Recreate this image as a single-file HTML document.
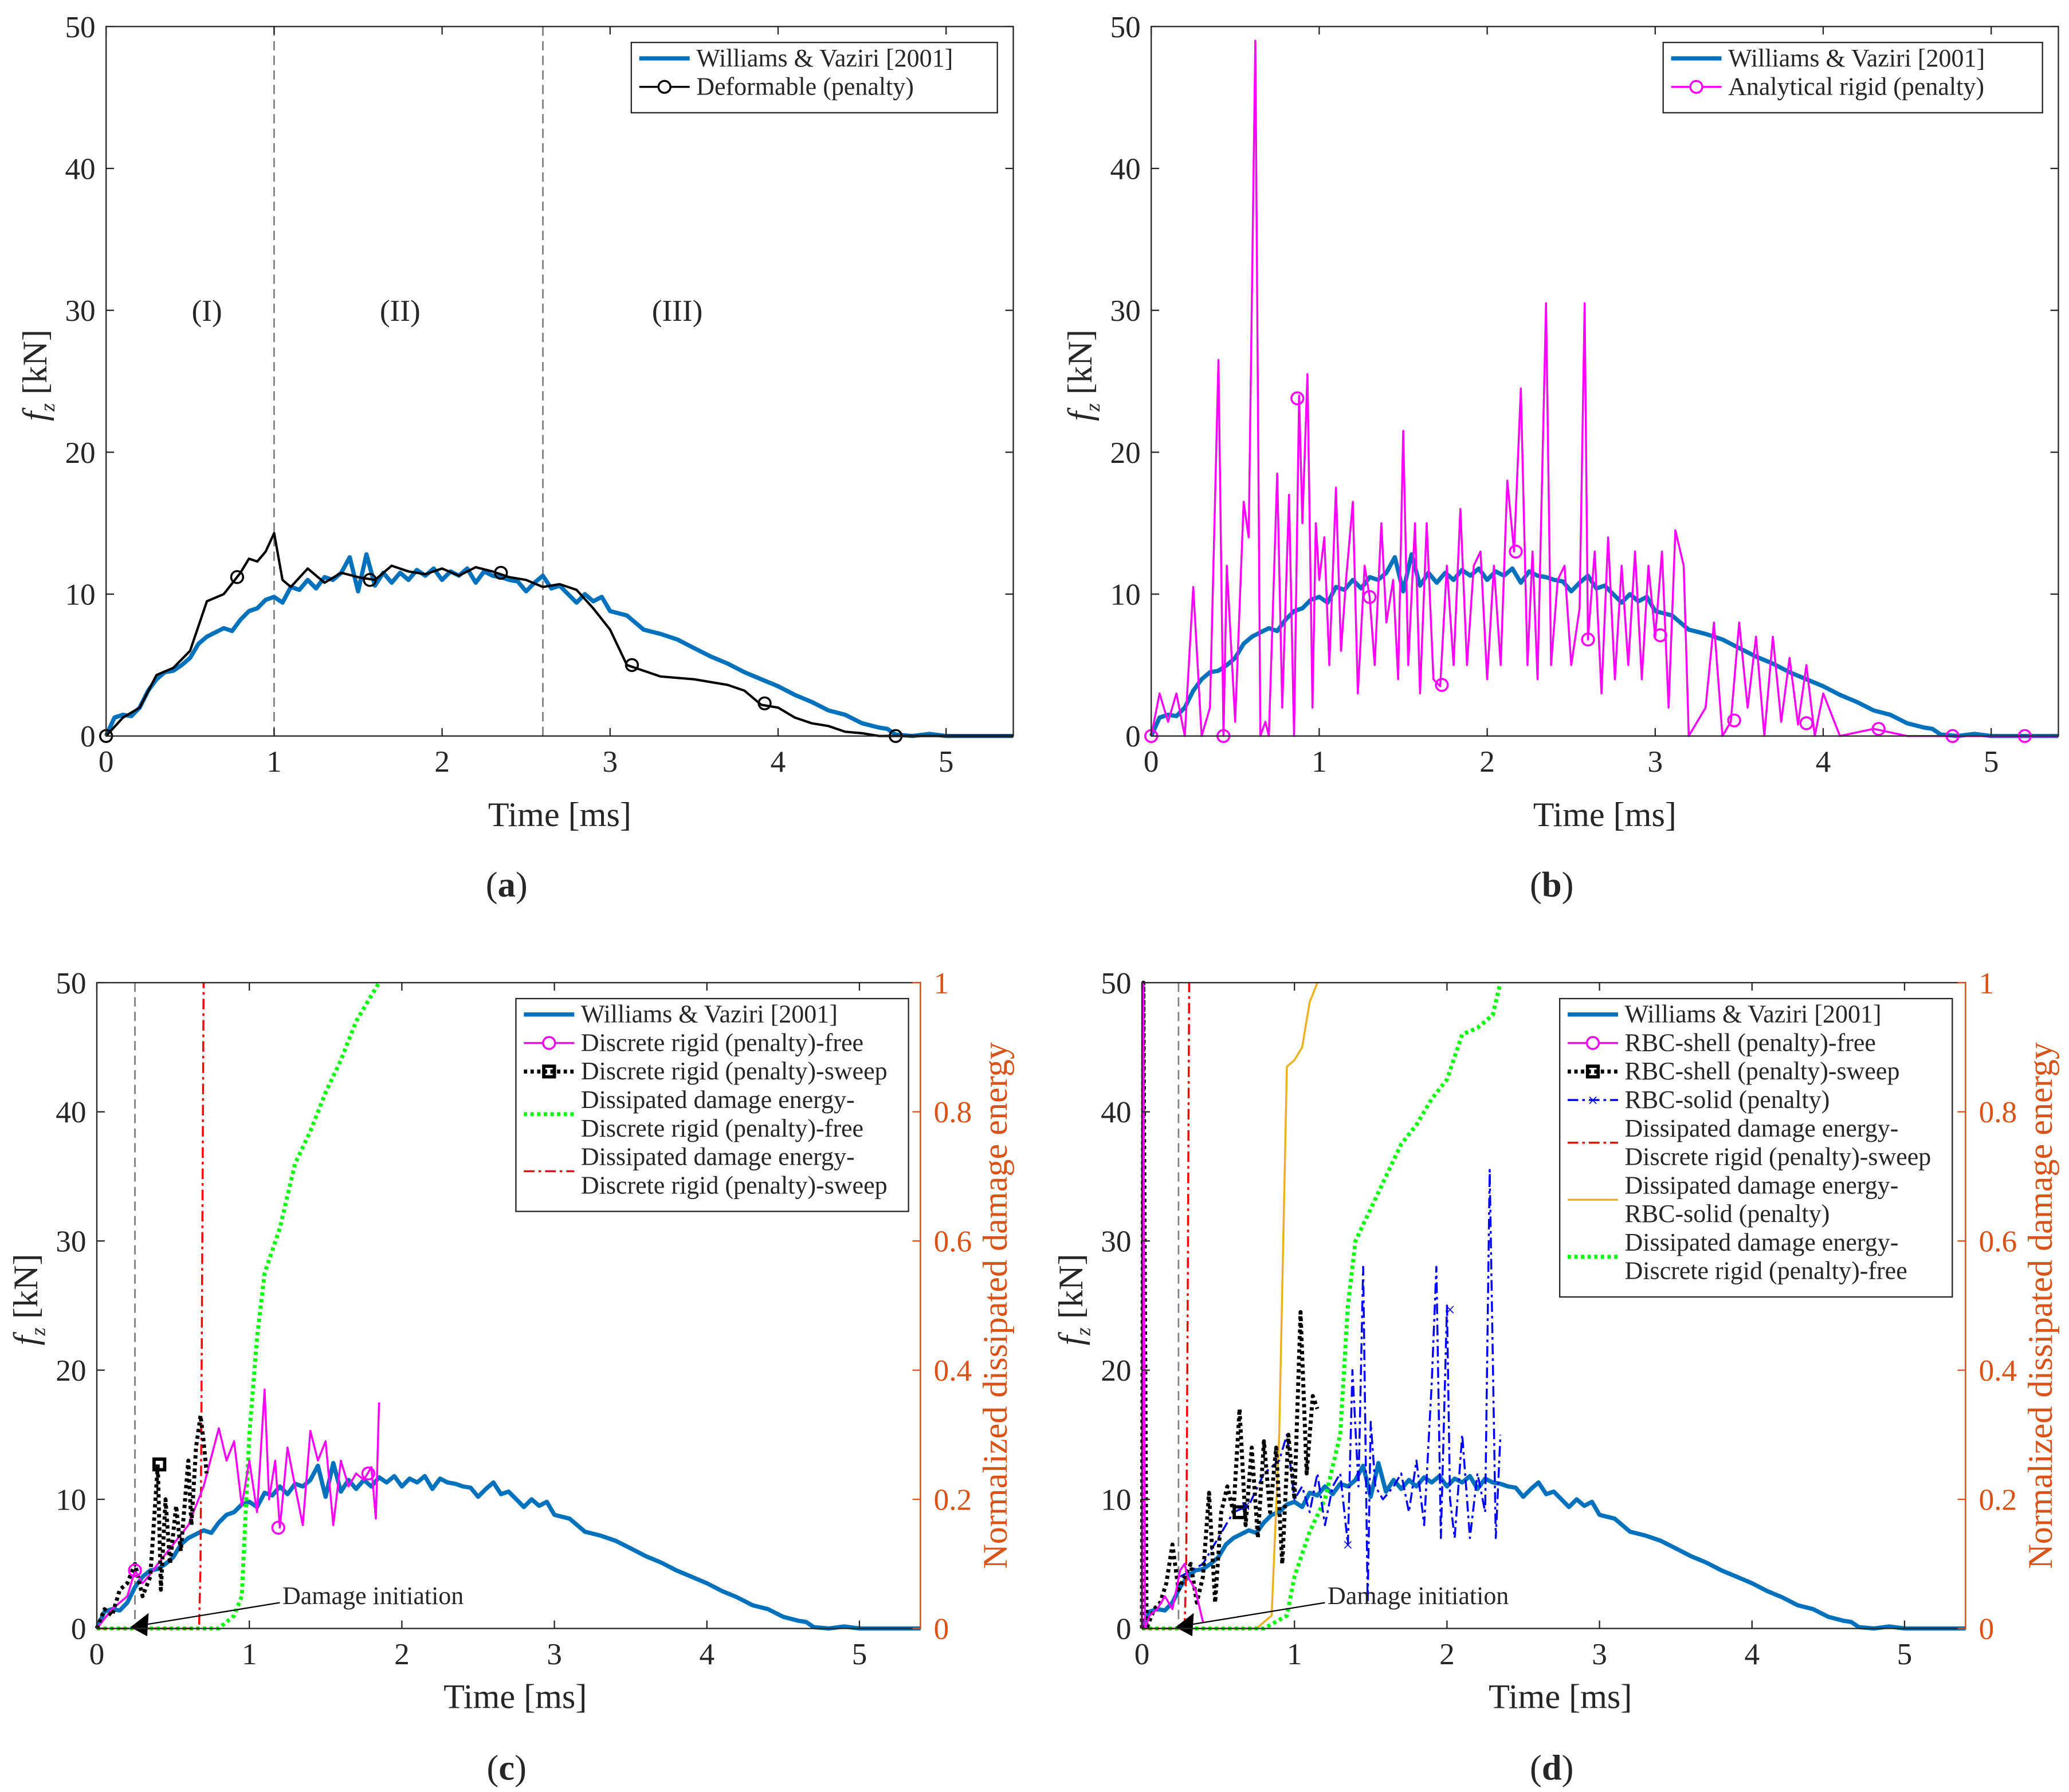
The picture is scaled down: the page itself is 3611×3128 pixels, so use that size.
<!DOCTYPE html>
<html><head><meta charset="utf-8"><style>
html,body{margin:0;padding:0;background:#fff}
svg{display:block}
text{font-family:"Liberation Serif",serif;fill:#262626}
</style></head><body>
<svg id="fig" width="3611" height="3128" viewBox="0 0 1560 1351.3" xmlns="http://www.w3.org/2000/svg">
<rect width="1560" height="1352" fill="#fff"/>
<g id="root"></g>
</svg>
<script>
// ---------- data ----------
const xTicks=[0,1,2,3,4,5];
const yTicks=[0,10,20,30,40,50];
const rTicks=[0,0.2,0.4,0.6,0.8,1];
const wvT=[0,0.05,0.1,0.15,0.2,0.25,0.3,0.35,0.4,0.45,0.5,0.55,0.6,0.65,0.7,0.75,0.8,0.85,0.9,0.95,1.0,1.05,1.1,1.15,1.2,1.25,1.3,1.35,1.4,1.45,1.5,1.55,1.6,1.65,1.7,1.75,1.8,1.85,1.9,1.95,2.0,2.05,2.1,2.15,2.2,2.25,2.3,2.35,2.4,2.45,2.5,2.55,2.6,2.65,2.7,2.75,2.8,2.85,2.9,2.95,3.0,3.1,3.2,3.3,3.4,3.5,3.6,3.7,3.8,3.9,4.0,4.1,4.2,4.3,4.4,4.5,4.6,4.65,4.7,4.8,4.9,5.0,5.4];
const wvF=[0,1.3,1.5,1.4,2.0,3.2,4.0,4.5,4.6,5.0,5.5,6.5,7.0,7.3,7.6,7.4,8.2,8.8,9.0,9.6,9.8,9.4,10.5,10.3,11.0,10.4,11.2,11.0,11.5,12.6,10.2,12.8,10.6,11.5,10.8,11.5,11.0,11.7,11.3,11.8,11.0,11.6,11.3,11.8,10.8,11.6,11.3,11.2,11.0,10.9,10.2,10.8,11.3,10.4,10.6,10.0,9.4,10.0,9.5,9.8,8.8,8.5,7.5,7.2,6.8,6.2,5.6,5.1,4.5,4.0,3.5,2.9,2.4,1.8,1.5,0.9,0.6,0.5,0.1,0,0.15,0,0];
const defT=[0,0.1,0.2,0.3,0.4,0.5,0.6,0.7,0.8,0.85,0.9,0.95,1.0,1.05,1.1,1.2,1.3,1.4,1.5,1.6,1.7,1.8,1.9,2.0,2.1,2.2,2.3,2.4,2.5,2.6,2.7,2.8,2.9,3.0,3.1,3.2,3.3,3.5,3.7,3.8,3.9,4.0,4.1,4.2,4.3,4.4,4.5,4.6,5.4];
const defF=[0,1.3,2.0,4.3,4.8,6.0,9.5,10.0,11.5,12.5,12.3,13.0,14.3,11.0,10.5,11.8,10.8,11.5,11.2,11.0,12.0,11.6,11.4,11.8,11.3,11.9,11.6,11.2,11.0,10.5,10.7,10.3,9.0,7.5,5.0,4.6,4.2,4.0,3.6,3.2,2.2,2.0,1.3,0.9,0.7,0.3,0.2,0,0];
const defMT=[0,0.78,1.57,2.35,3.13,3.92,4.7];
const defMF=[0,11.2,11.0,11.5,5.0,2.3,0];
const arT=[0,0.05,0.1,0.15,0.2,0.25,0.3,0.35,0.4,0.43,0.45,0.5,0.55,0.58,0.62,0.65,0.68,0.7,0.75,0.78,0.82,0.85,0.88,0.9,0.93,0.96,0.98,1.0,1.03,1.06,1.1,1.13,1.16,1.2,1.23,1.27,1.3,1.33,1.37,1.4,1.44,1.47,1.5,1.53,1.57,1.6,1.64,1.68,1.72,1.76,1.8,1.84,1.88,1.92,1.96,2.0,2.04,2.08,2.12,2.16,2.2,2.24,2.27,2.3,2.35,2.38,2.42,2.46,2.5,2.55,2.58,2.6,2.64,2.68,2.72,2.76,2.8,2.84,2.88,2.92,2.96,3.0,3.04,3.08,3.12,3.17,3.2,3.3,3.35,3.4,3.45,3.5,3.55,3.6,3.65,3.7,3.75,3.8,3.85,3.9,3.95,4.0,4.1,4.3,4.5,5.4];
const arF=[0,3,1,3,0,10.5,0,2,26.5,0,12,1,16.5,14,49,0,1,0,18.5,2,17,0,24,15,25.5,2,15,11,14,5,17.5,6,11,16.5,3,12,9.8,5,15,8,11,4,21.5,5,15,3,15,4,3.5,12,5,16,5,12,13,4,12,5,18,13,24.5,5,13,4,30.5,5,11,12,5,9,30.5,6.8,13,3,14,4,12,5,13,4,12,7,13,2,14.5,12,0,2,8,0,1,8,2,7,0,7,1,5.5,0.8,5,0,3,0,0.5,0,0];
const arMT=[0,0.43,0.87,1.3,1.73,2.17,2.6,3.03,3.47,3.9,4.33,4.77,5.2];
const arMF=[0,0,23.8,9.8,3.6,13,6.8,7.1,1.1,0.9,0.5,0,0];
const cFreeT=[0,0.1,0.2,0.25,0.3,0.35,0.4,0.5,0.6,0.7,0.8,0.85,0.9,0.95,1.0,1.05,1.1,1.13,1.17,1.2,1.25,1.3,1.35,1.4,1.45,1.5,1.55,1.6,1.65,1.7,1.75,1.8,1.83,1.85];
const cFreeF=[0,1.5,2.5,4.5,3.5,4.2,5,6.5,8,11,15.5,13,14.5,9.5,13,9,18.5,10,13,7.8,14,11,8,15.3,13,14.5,8,13,11,12,11.5,12.5,8.5,17.5];
const cSwT=[0,0.05,0.1,0.15,0.2,0.25,0.3,0.35,0.4,0.42,0.45,0.48,0.52,0.55,0.6,0.62,0.65,0.68,0.7,0.72];
const cSwF=[0,1.5,1,3,3.5,5,2.5,4,12.7,3,10,5,9.5,6,13,8,14,16.5,14.5,12];
const cGrT=[0,0.8,0.9,0.95,0.98,1.0,1.05,1.1,1.2,1.3,1.4,1.5,1.6,1.7,1.8,1.85];
const cGrE=[0,0,0.02,0.05,0.2,0.3,0.45,0.55,0.62,0.72,0.77,0.83,0.88,0.94,0.98,1.0];
const cRdT=[0,0.67,0.68,0.69,0.7];
const cRdE=[0,0,0.1,0.5,1.0];
const dFreeT=[0,0.01,0.02,0.05,0.1,0.15,0.2,0.25,0.28,0.3,0.35,0.4];
const dFreeF=[0,50,0,1,1.5,2.5,1.5,4.5,5,4,3,0.5];
const dSwT=[0,0.01,0.03,0.08,0.12,0.16,0.2,0.24,0.28,0.32,0.36,0.4,0.44,0.48,0.52,0.56,0.6,0.64,0.68,0.72,0.76,0.8,0.84,0.88,0.92,0.96,1.0,1.04,1.08,1.12,1.15];
const dSwF=[0,50,0,1.5,2,3.5,6.5,3,4,5,2,4,10.5,2,9,11,9,17,8,14,7,14.5,9,14,5,15,10,24.5,12,18,17];
const dSolT=[0.25,0.4,0.6,0.7,0.8,0.9,0.95,1.0,1.05,1.1,1.15,1.2,1.25,1.3,1.35,1.38,1.42,1.45,1.48,1.5,1.53,1.58,1.65,1.7,1.75,1.8,1.85,1.9,1.93,1.96,2.0,2.02,2.05,2.1,2.15,2.2,2.25,2.28,2.32,2.35];
const dSolF=[4,5,9,9.5,12,13,15,10,11,9,12,8,11,12,6.5,20,11,28,2,16,11,10,11,12,9,13,8,19,28,7,25,10,7,15,7,12,9,35.5,7,15];
const dOrT=[0,0.75,0.85,0.9,0.95,1.0,1.05,1.1,1.15];
const dOrE=[0,0,0.02,0.3,0.87,0.88,0.9,0.97,1.0];
const dGrT=[0,0.8,0.95,1.0,1.1,1.2,1.3,1.35,1.4,1.5,1.6,1.7,1.8,1.9,2.0,2.1,2.2,2.3,2.35];
const dGrE=[0,0,0.02,0.08,0.15,0.2,0.3,0.5,0.6,0.65,0.7,0.75,0.78,0.82,0.85,0.92,0.93,0.95,1.0];
const dRdT=[0,0.28,0.29,0.3,0.31];
const dRdE=[0,0,0.1,0.5,1.0];

// ---------- helpers ----------
const NS="http://www.w3.org/2000/svg";
const root=document.getElementById('root');
function mk(tag,attrs,parent){const e=document.createElementNS(NS,tag);for(const k in attrs)e.setAttribute(k,attrs[k]);(parent||root).appendChild(e);return e;}
function panel(L,R,B,T){const sx=t=>L+(R-L)*t/5.4, sy=f=>B-(B-T)*f/50, sr=e=>B-(B-T)*e;return {L,R,B,T,sx,sy,sr};}
function pts(p,ts,vs,fy){return ts.map((t,i)=>p.sx(t).toFixed(1)+','+Math.max(p.T,fy(vs[i])).toFixed(1)).join(' ');}
function axes(p,name,right){
  const g=mk('g',{});
  
  
  mk('rect',{x:p.L,y:p.T,width:p.R-p.L,height:p.B-p.T,fill:'none',stroke:'#262626','stroke-width':1},g);
  xTicks.forEach(t=>{const x=p.sx(t);mk('line',{x1:x,y1:p.B,x2:x,y2:p.B-6,stroke:'#262626'},g);mk('line',{x1:x,y1:p.T,x2:x,y2:p.T+6,stroke:'#262626'},g);
    const tx=mk('text',{x:x,y:p.B+27,'text-anchor':'middle','font-size':23},g);tx.textContent=t;
    
    });
  yTicks.forEach(v=>{const y=p.sy(v);mk('line',{x1:p.L,y1:y,x2:p.L+6,y2:y,stroke:'#262626'},g);if(!right)mk('line',{x1:p.R,y1:y,x2:p.R-6,y2:y,stroke:'#262626'},g);
    const tx=mk('text',{x:p.L-8,y:y+8,'text-anchor':'end','font-size':23},g);tx.textContent=v;
    
    });
  const xl=mk('text',{x:(p.L+p.R)/2+(right?5:0),y:p.B+(right?60:68),'text-anchor':'middle','font-size':26},g);xl.textContent='Time [ms]';
  
  
  const yl=mk('text',{transform:`translate(${p.L-45},${(p.T+p.B)/2+30}) rotate(-90)`,'font-size':26},g);
  yl.innerHTML='<tspan font-style="italic">f</tspan><tspan font-style="italic" font-size="16" dy="6">z</tspan><tspan dy="-6"> [kN]</tspan>';
  
  
  if(right){const oc='#d95319';
    mk('line',{x1:p.R,y1:p.T,x2:p.R,y2:p.B,stroke:oc},g);
    rTicks.forEach(v=>{const y=p.sr(v);mk('line',{x1:p.R,y1:y,x2:p.R-6,y2:y,stroke:oc},g);
      const tx=mk('text',{x:p.R+10,y:y+8,'font-size':23,style:'fill:'+oc},g);tx.textContent=v;
      
      });
    const rl=mk('text',{transform:`translate(${p.R+65},${(p.T+p.B)/2}) rotate(-90)`,'text-anchor':'middle','font-size':26,style:'fill:'+oc},g);
    rl.textContent='Normalized dissipated damage energy';
    
    }
}
function line(p,ts,vs,fy,style,name){const e=mk('polyline',Object.assign({points:pts(p,ts,vs,fy),fill:'none','stroke-linejoin':'round'},style));
  
  return e;}
function markers(p,ts,vs,kind,color,name){ts.forEach((t,i)=>{const x=p.sx(t),y=p.sy(vs[i]);let e;
  if(kind==='o')e=mk('circle',{cx:x,cy:y,r:4.5,fill:'none',stroke:color,'stroke-width':1.5});
  else if(kind==='s')e=mk('rect',{x:x-4,y:y-4,width:8,height:8,fill:'none',stroke:color,'stroke-width':2.5});
  else e=mk('text',{x:x,y:y+5,'text-anchor':'middle','font-size':14,style:'fill:'+color},null),e.textContent='×';
  
  });}
function legend(x,y,w,entries,name){const g=mk('g',{});
  
  
  let h=0;entries.forEach(e=>h+=e.lines.length*21.5);h+=10;
  mk('rect',{x,y,width:w,height:h,fill:'#fff',stroke:'#262626'},g);
  let cy=y+18;entries.forEach(e=>{const ly=cy-6+(e.lines.length-1)*10.7;
    if(e.style){const l=mk('line',Object.assign({x1:x+6,y1:ly,x2:x+44,y2:ly},e.style),g);}
    if(e.mk==='o')mk('circle',{cx:x+25,cy:ly,r:4.5,fill:'#fff',stroke:e.style.stroke,'stroke-width':1.5},g);
    if(e.mk==='s')mk('rect',{x:x+21,y:ly-4,width:8,height:8,fill:'none',stroke:'#000','stroke-width':2.5},g);
    if(e.mk==='x'){const t=mk('text',{x:x+25,y:ly+5,'text-anchor':'middle','font-size':14,style:'fill:#0000ff'},g);t.textContent='×';}
    e.lines.forEach((s,i)=>{const t=mk('text',{x:x+49,y:cy+i*21.5,'font-size':19},g);t.textContent=s;
      
      });
    cy+=e.lines.length*21.5;});}
function caption(x,y,s){const t=mk('text',{x,y,'text-anchor':'middle','font-size':27});t.innerHTML='(<tspan font-weight="bold">'+s+'</tspan>)';
  
  }
const BLUE={stroke:'#0072bd','stroke-width':3.2};
const MAG={stroke:'#ff00ff','stroke-width':1.5};
const BLK={stroke:'#000','stroke-width':1.8};
const SW={stroke:'#000','stroke-width':3,'stroke-dasharray':'2.5,2.5'};
const GR={stroke:'#00ff00','stroke-width':3,'stroke-dasharray':'2.5,2.5'};
const RD={stroke:'#ff0000','stroke-width':1.5,'stroke-dasharray':'8,3,2,3'};
const OR={stroke:'#edb120','stroke-width':1.5};
const SOL={stroke:'#0000ff','stroke-width':1.5,'stroke-dasharray':'8,3,2,3'};
const GD={stroke:'#808080','stroke-width':1.2,'stroke-dasharray':'7,4'};

// ---------- panel a ----------
const A=panel(80,764,555,20);
[1,2.6].forEach(t=>{const l=mk('line',Object.assign({x1:A.sx(t),y1:A.T,x2:A.sx(t),y2:A.B},GD));});
[['(I)',0.6],['(II)',1.75],['(III)',3.4]].forEach(([s,t])=>{const e=mk('text',{x:A.sx(t),y:A.sy(30)+8,'text-anchor':'middle','font-size':23});e.textContent=s;});
line(A,wvT,wvF,A.sy,BLUE,'williams-vaziri-line');
line(A,defT,defF,A.sy,BLK,'deformable-line');
markers(A,defMT,defMF,'o','#000','deformable-marker');
axes(A,'panel-a');
legend(476,32,276,[{style:BLUE,lines:['Williams & Vaziri [2001]']},{style:{stroke:'#000','stroke-width':1.5},mk:'o',lines:['Deformable (penalty)']}],'legend-a');
caption(382,676,'a');

// ---------- panel b ----------
const Bp=panel(868,1552,555,20);
line(Bp,wvT,wvF,Bp.sy,BLUE,'williams-vaziri-line');
line(Bp,arT,arF,Bp.sy,MAG,'analytical-rigid-line');
markers(Bp,arMT,arMF,'o','#ff00ff','analytical-rigid-marker');
axes(Bp,'panel-b');
legend(1254,32,286,[{style:BLUE,lines:['Williams & Vaziri [2001]']},{style:MAG,mk:'o',lines:['Analytical rigid (penalty)']}],'legend-b');
caption(1170,676,'b');

// ---------- panel c ----------
const C=panel(73,694,1228,741);
mk('line',Object.assign({x1:C.sx(0.25),y1:C.T,x2:C.sx(0.25),y2:C.B},GD));
line(C,wvT,wvF,C.sy,BLUE,'williams-vaziri-line');
line(C,cGrT,cGrE,C.sr,GR,'damage-energy-free-line');
line(C,cRdT,cRdE,C.sr,RD,'damage-energy-sweep-line');
line(C,cFreeT,cFreeF,C.sy,MAG,'discrete-rigid-free-line');
line(C,cSwT,cSwF,C.sy,SW,'discrete-rigid-sweep-line');
markers(C,[0.25,1.19,1.78],[4.5,7.8,12],'o','#ff00ff','free-marker');
markers(C,[0.41],[12.7],'s','#000','sweep-marker');
mk('line',{x1:C.sx(1.2),y1:C.sy(2),x2:C.sx(0.32),y2:C.sy(0.3),stroke:'#000','stroke-width':1});
mk('polygon',{points:`${C.sx(0.22)},${C.sy(0.1)} ${C.sx(0.34)},${C.sy(1.2)} ${C.sx(0.33)},${C.sy(-0.6)}`,fill:'#000'});
{const t=mk('text',{x:C.sx(1.2)+2,y:C.sy(2)+1,'font-size':19});t.textContent='Damage initiation';}
axes(C,'panel-c',true);
legend(389,753,296,[{style:BLUE,lines:['Williams & Vaziri [2001]']},{style:MAG,mk:'o',lines:['Discrete rigid (penalty)-free']},{style:SW,mk:'s',lines:['Discrete rigid (penalty)-sweep']},{style:GR,lines:['Dissipated damage energy-','Discrete rigid (penalty)-free']},{style:RD,lines:['Dissipated damage energy-','Discrete rigid (penalty)-sweep']}],'legend-c');
caption(382,1342,'c');

// ---------- panel d ----------
const D=panel(861,1482,1228,741);
mk('line',Object.assign({x1:D.sx(0.24),y1:D.T,x2:D.sx(0.24),y2:D.B},GD));
line(D,wvT,wvF,D.sy,BLUE,'williams-vaziri-line');
line(D,dOrT,dOrE,D.sr,OR,'damage-energy-solid-line');
line(D,dGrT,dGrE,D.sr,GR,'damage-energy-free-line');
line(D,dRdT,dRdE,D.sr,RD,'damage-energy-sweep-line');
line(D,dSolT,dSolF,D.sy,SOL,'rbc-solid-line');
line(D,dSwT,dSwF,D.sy,SW,'rbc-shell-sweep-line');
line(D,dFreeT,dFreeF,D.sy,MAG,'rbc-shell-free-line');
markers(D,[0.64],[9],'s','#000','sweep-marker');
markers(D,[0.68,1.35,2.02],[9.5,6.5,24.7],'x','#0000ff','solid-marker');
mk('line',{x1:D.sx(1.2),y1:D.sy(2),x2:D.sx(0.32),y2:D.sy(0.3),stroke:'#000','stroke-width':1});
mk('polygon',{points:`${D.sx(0.22)},${D.sy(0.1)} ${D.sx(0.34)},${D.sy(1.2)} ${D.sx(0.33)},${D.sy(-0.6)}`,fill:'#000'});
{const t=mk('text',{x:D.sx(1.2)+2,y:D.sy(2)+1,'font-size':19});t.textContent='Damage initiation';}
axes(D,'panel-d',true);
legend(1176,753,296,[{style:BLUE,lines:['Williams & Vaziri [2001]']},{style:MAG,mk:'o',lines:['RBC-shell (penalty)-free']},{style:SW,mk:'s',lines:['RBC-shell (penalty)-sweep']},{style:SOL,mk:'x',lines:['RBC-solid (penalty)']},{style:RD,lines:['Dissipated damage energy-','Discrete rigid (penalty)-sweep']},{style:OR,lines:['Dissipated damage energy-','RBC-solid (penalty)']},{style:GR,lines:['Dissipated damage energy-','Discrete rigid (penalty)-free']}],'legend-d');
caption(1170,1342,'d');
</script>
</body></html>
